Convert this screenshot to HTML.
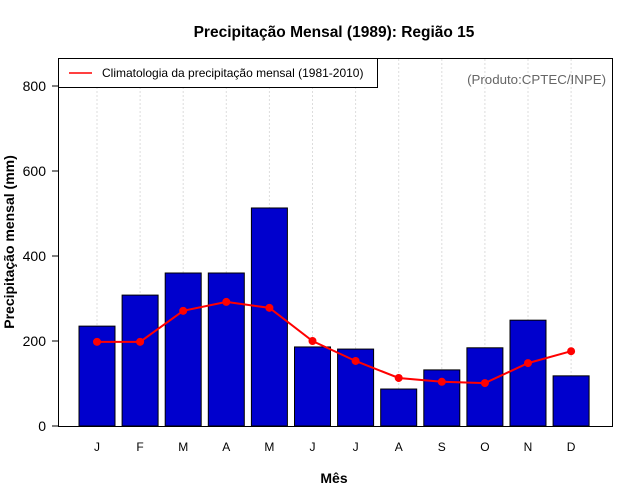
<!DOCTYPE html>
<html><head><meta charset="utf-8"><style>
body{margin:0;background:#fff}svg{display:block}
text{font-family:"Liberation Sans",sans-serif}
</style></head><body>
<svg id="c" width="640" height="500">
<text x="334" y="37" text-anchor="middle" font-size="15.5" font-weight="bold">Precipitação Mensal (1989): Região 15</text>
<text x="334" y="483" text-anchor="middle" font-size="14" font-weight="bold">Mês</text>
<text transform="translate(14,242) rotate(-90)" text-anchor="middle" font-size="14" font-weight="bold">Precipitação mensal (mm)</text>
<g id="grid"></g><g id="bars"></g><g id="line"></g><g id="axes"></g>
<rect x="58.5" y="58.5" width="554" height="368" fill="none" stroke="#000"/>
<g>
<rect x="58.5" y="58.5" width="319" height="29" fill="#fff" stroke="#000"/>
<line x1="69" y1="73" x2="92" y2="73" stroke="red" stroke-width="1.5"/>
<text x="102" y="77" font-size="12">Climatologia da precipitação mensal (1981-2010)</text>
</g>
<text x="606" y="84" text-anchor="end" font-size="13.3" fill="#666">(Produto:CPTEC/INPE)</text>
</svg>
<script>
const months=["J","F","M","A","M","J","J","A","S","O","N","D"];
const precip=[235,308,360,360,513,186,181,87,132,184,249,118];
const clim=[198,198,271,292,278,200,153,113,104,101,148,176];
const yTicks=[0,200,400,600,800];
const NS="http://www.w3.org/2000/svg";
const X=i=>97+i*43.1, Y=v=>426-v*0.425;
function mk(t,a,p){const e=document.createElementNS(NS,t);for(const k in a)e.setAttribute(k,a[k]);p.appendChild(e);return e;}
const g=document.getElementById('grid'),b=document.getElementById('bars'),l=document.getElementById('line'),ax=document.getElementById('axes');
months.forEach((m,i)=>{
 const gl=mk('line',{x1:X(i),x2:X(i),y1:59,y2:426,stroke:'#ddd','stroke-dasharray':'2,2'},g);
 
 
 const r=mk('rect',{x:X(i)-18,y:Y(precip[i]),width:36,height:426-Y(precip[i]),fill:'#0000cd',stroke:'#000'},b);
 
 
 const t=mk('text',{x:X(i),y:451,'text-anchor':'middle','font-size':12},ax);t.textContent=m;
 
 
});
const pl=mk('polyline',{points:clim.map((v,i)=>X(i)+','+Y(v)).join(' '),fill:'none',stroke:'red','stroke-width':2},l);


clim.forEach((v,i)=>{const c=mk('circle',{cx:X(i),cy:Y(v),r:4,fill:'red'},l);
 
 });
yTicks.forEach(v=>{
 mk('line',{x1:52,x2:58,y1:Y(v),y2:Y(v),stroke:'#000'},ax);
 const t=mk('text',{x:46,y:Y(v)+5,'text-anchor':'end','font-size':14},ax);t.textContent=v;
 
 
});
</script>
</body></html>
